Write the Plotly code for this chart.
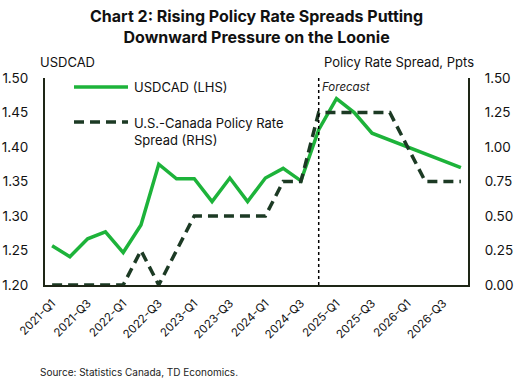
import plotly.graph_objects as go

quarters = [f"{y}-Q{q}" for y in range(2021, 2027) for q in range(1, 5)]
usdcad = [1.257, 1.241, 1.267, 1.277, 1.247, 1.287, 1.375, 1.354,
          1.354, 1.321, 1.355, 1.321, 1.355, 1.369, 1.351, 1.425,
          1.470, 1.450, 1.420, 1.410, 1.400, 1.389, 1.380, 1.370]
spread = [0, 0, 0, 0, 0, 0.25, 0, 0.25,
          0.5, 0.5, 0.5, 0.5, 0.5, 0.75, 0.75, 1.25,
          1.25, 1.25, 1.25, 1.25, 1.0, 0.75, 0.75, 0.75]
tick_labels = quarters[::2]
forecast_start = "2024-Q4"
series_names = ["USDCAD (LHS)", "U.S.-Canada Policy Rate<br>Spread (RHS)"]

FONT = "Inter"
GREEN = "#1db33a"
DARK = "#1c3a24"
AXIS = "#1e2616"
DASH = "10px,6px"

fig = go.Figure()
fig.add_trace(go.Scatter(x=quarters, y=usdcad, name=series_names[0], mode="lines",
                         showlegend=False, line=dict(color=GREEN, width=3.5)))
fig.add_trace(go.Scatter(x=quarters, y=spread, name=series_names[1], mode="lines", yaxis="y2",
                         showlegend=False, line=dict(color=DARK, width=3.5, dash=DASH)))

# forecast marker
fig.add_shape(type="line", xref="x", yref="paper", x0=forecast_start, x1=forecast_start,
              y0=0, y1=1, line=dict(color="black", width=1.5, dash="dot"))
fig.add_annotation(xref="x", yref="paper", x=forecast_start, y=1.0, text="<i>Forecast</i>",
                   showarrow=False, xanchor="left", yanchor="top", xshift=1, yshift=0,
                   font=dict(family=FONT, size=11.5, color="#222"))

# manual legend (pixel-ish positions in paper coords)
def px_x(p):
    return (p - 45) / 423

def px_y(p):
    return (285 - p) / 207

fig.add_shape(type="line", xref="paper", yref="paper", x0=px_x(74), x1=px_x(128),
              y0=px_y(87), y1=px_y(87), line=dict(color=GREEN, width=3.5))
fig.add_shape(type="line", xref="paper", yref="paper", x0=px_x(74), x1=px_x(128),
              y0=px_y(122), y1=px_y(122), line=dict(color=DARK, width=3.5, dash=DASH))
fig.add_annotation(xref="paper", yref="paper", x=px_x(132), y=px_y(87), text=series_names[0],
                   showarrow=False, xanchor="left", yanchor="middle", align="left",
                   font=dict(family=FONT, size=13, color="#111"))
fig.add_annotation(xref="paper", yref="paper", x=px_x(132), y=px_y(113), text=series_names[1],
                   showarrow=False, xanchor="left", yanchor="top", align="left",
                   font=dict(family=FONT, size=13, color="#111"))

# title and axis titles
fig.add_annotation(xref="paper", yref="paper", x=0.5, y=px_y(4),
                   text="<b>Chart 2: Rising Policy Rate Spreads Putting<br>Downward Pressure on the Loonie</b>",
                   showarrow=False, xanchor="center", yanchor="top", align="center",
                   font=dict(family=FONT, size=16, color="#111"))
fig.add_annotation(xref="paper", yref="paper", x=px_x(38), y=px_y(62), text="USDCAD",
                   showarrow=False, xanchor="left", yanchor="middle",
                   font=dict(family=FONT, size=13, color="#111"))
fig.add_annotation(xref="paper", yref="paper", x=px_x(476), y=px_y(62), text="Policy Rate Spread, Ppts",
                   showarrow=False, xanchor="right", yanchor="middle",
                   font=dict(family=FONT, size=13, color="#111"))
fig.add_annotation(xref="paper", yref="paper", x=px_x(38), y=px_y(372),
                   text="Source: Statistics Canada, TD Economics.",
                   showarrow=False, xanchor="left", yanchor="middle",
                   font=dict(family=FONT, size=10, color="#222"))

fig.update_layout(
    width=517, height=386,
    margin=dict(l=45, r=49, t=78, b=101, autoexpand=False),
    paper_bgcolor="white", plot_bgcolor="white",
    font=dict(family=FONT, size=13, color="#111"),
    showlegend=False,
    xaxis=dict(type="category", range=[-0.4, 23.4], tickmode="array", tickvals=tick_labels,
               ticktext=tick_labels, tickangle=-45, showgrid=False, showline=True, automargin=False,
               linecolor=AXIS, linewidth=2, ticks="", ticklabelstandoff=5,
               tickfont=dict(family=FONT, size=11.5, color="#111")),
    yaxis=dict(range=[1.2, 1.5], dtick=0.05, tickformat=".2f", showgrid=False, zeroline=False,
               showline=True, linecolor=AXIS, linewidth=2, ticks="", ticklabelstandoff=12,
               automargin=False, tickfont=dict(family=FONT, size=13.5, color="#111")),
    yaxis2=dict(range=[0, 1.5], dtick=0.25, tickformat=".2f", showgrid=False, zeroline=False,
                overlaying="y", side="right", showline=True, linecolor=AXIS, linewidth=2,
                ticks="", ticklabelstandoff=12, automargin=False,
                tickfont=dict(family=FONT, size=13.5, color="#111")),
)

fig.write_html("out.html", config={"displayModeBar": False},
               post_script="document.body.style.margin='0';")
